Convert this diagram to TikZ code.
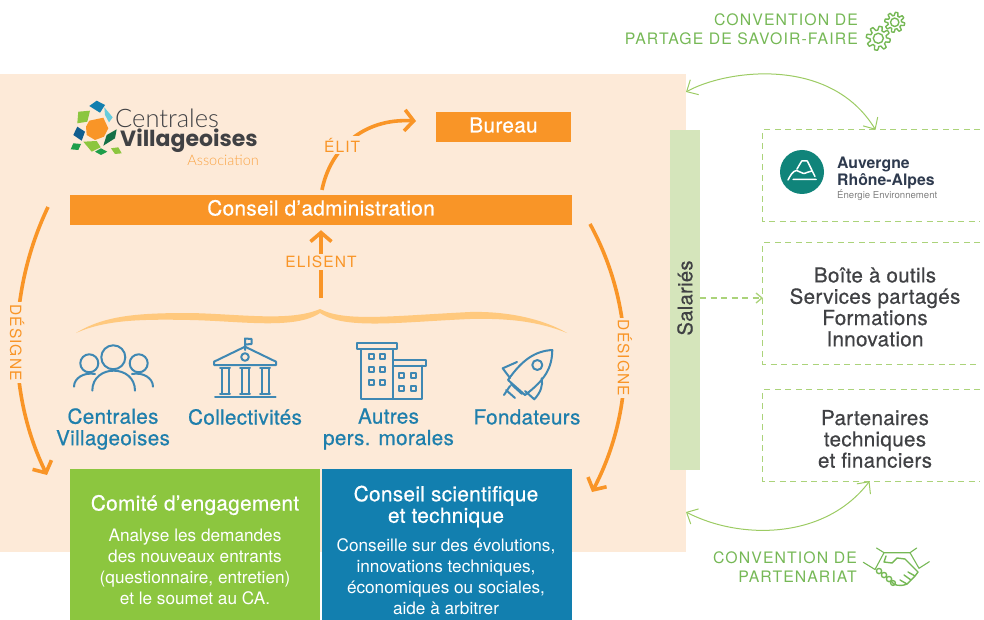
\documentclass[tikz,border=0pt]{standalone}
\usepackage{fontspec}
\usepackage{xcolor}
\usetikzlibrary{arrows.meta,positioning}
\setmainfont{TeX Gyre Heros}
\newfontfamily\medfont[FakeBold=0.6,LetterSpace=1.5]{TeX Gyre Heros}
\newfontfamily\capsfont[LetterSpace=7]{TeX Gyre Heros}
\newfontfamily\logolight{Lato Light}
\newfontfamily\logobold{Poppins}[UprightFont=* Bold]
\definecolor{fondpeche}{HTML}{FDEAD8}
\definecolor{orangeca}{HTML}{F99527}
\definecolor{accolade}{HTML}{FFC97E}
\definecolor{bleutxt}{HTML}{1F7FAC}
\definecolor{bleuicone}{HTML}{3F88B3}
\definecolor{bleucst}{HTML}{127FAF}
\definecolor{vertce}{HTML}{8CC63F}
\definecolor{vertsal}{HTML}{D5E5BB}
\definecolor{vertline}{HTML}{9CCB63}
\definecolor{verttxt}{HTML}{76B856}
\definecolor{grisfonce}{HTML}{404144}
\definecolor{tealaura}{HTML}{10847A}
\definecolor{logocyan}{HTML}{66CCDD}
\definecolor{logobleu}{HTML}{115E8F}
\definecolor{logovert}{HTML}{146F45}
\definecolor{logomoyen}{HTML}{1E9E4A}
\definecolor{aurableu}{HTML}{2E3A4E}
\tikzset{
  bandeau/.style={fill=orangeca,text=white,inner sep=0pt,text height=15pt,text depth=4pt,font=\medfont\fontsize{20.8}{22}\selectfont},
  groupe/.style={text=bleutxt,align=center,font=\medfont\fontsize{20.7}{21.5}\selectfont},
  comite/.style={text=white,align=center,inner sep=0pt},
  titrecomite/.style={font=\medfont\fontsize{20.8}{21.5}\selectfont},
  textecomite/.style={font=\fontsize{17.2}{20.8}\selectfont},
  capslabel/.style={text=orangeca,fill=fondpeche,inner sep=2pt,font=\capsfont\fontsize{15.5}{17}\selectfont},
  conventiontxt/.style={text=verttxt,align=right,anchor=east,inner sep=0pt,font=\capsfont\fontsize{15.8}{19}\selectfont},
  orangearc/.style={orangeca,line width=3.6pt,-{Straight Barb[length=9pt,width=21pt]}},
  greenarc/.style={vertline,line width=1pt,{Straight Barb[length=9pt,width=17pt]}-{Straight Barb[length=9pt,width=17pt]}},
  dashline/.style={vertline!85,line width=1.3pt,dash pattern=on 6pt off 4.5pt},
  dashbox/.style={minimum width=217pt,inner sep=0pt,text=grisfonce,align=center,font=\medfont\fontsize{20.6}{21.3}\selectfont},
  iconline/.style={bleuicone,line width=2pt,line join=round,line cap=round},
  greenicon/.style={verttxt,line width=1.4pt,line join=round,line cap=round},
}
\newcommand{\gearicon}[3]{
  \draw[greenicon,shift={(#1,#2)}] plot[domain=0:360,samples=97,variable=\t]
    ({#3*(0.84+0.16*max(-1,min(1,3*sin(8*\t))))*cos(\t)},{#3*(0.84+0.16*max(-1,min(1,3*sin(8*\t))))*sin(\t)}) -- cycle;
  \draw[greenicon] (#1,#2) circle ({#3*0.42});
}
\begin{document}
\begin{tikzpicture}[x=1pt,y=-1pt]
\useasboundingbox (0,0) rectangle (984,620);
\fill[fondpeche] (0,74) rectangle (686,552);
\node[fill=vertsal,minimum width=30pt,minimum height=340pt,inner sep=0pt] (salaries) at (685,300) {};
\node[rotate=90,text=grisfonce,font=\medfont\fontsize{20.2}{21}\selectfont] (salairestxt) at (685,298) {Salariés};
% logo
\fill[bleucst] (89.3,106) -- (96.7,100.7) -- (105,105) -- (100,112.7) -- cycle;
\fill[logocyan] (104.3,107.3) -- (112.7,117.3) -- (109,122.3) -- (105,115) -- cycle;
\fill[vertce] (78.3,111.7) -- (90,110.7) -- (87.3,121.7) -- (77.3,123.3) -- cycle;
\fill[orangeca] (89.3,120.7) -- (103.3,117.7) -- (108.3,128.3) -- (104,136.7) -- (95,140) -- (86.7,135) -- (86,126.7) -- cycle;
\fill[logobleu] (77.3,126.7) -- (85,131.7) -- (81.7,140.7) -- (73.3,135) -- cycle;
\fill[logovert] (116.7,129.3) -- (115,138.3) -- (103.3,145.7) -- (106.7,135) -- cycle;
\fill[vertce] (83.3,141.7) -- (96.7,141) -- (100.7,147.3) -- (91.7,151.7) -- cycle;
\fill[logomoyen] (73.3,143.3) -- (81,144) -- (78.3,150) -- (70.7,149.3) -- cycle;
\fill[logomoyen] (95,151.7) -- (101,148.3) -- (107.3,151.7) -- (101,155) -- cycle;
\fill[vertce] (111,148.3) -- (118.3,147.3) -- (121.7,153.3) -- (115,154) -- cycle;
\node[anchor=west,inner sep=0pt,text=grisfonce,font=\logolight\fontsize{25.5}{25}\selectfont] (logoa) at (115,118.5) {Centrales};
\node[anchor=west,inner sep=0pt,text=grisfonce,font=\logobold\fontsize{22}{22}\selectfont] (logob) at (120,141) {Villageoises};
\node[anchor=east,inner sep=0pt,text=orangeca!85,font=\logolight\fontsize{14.5}{15}\selectfont] (logoc) at (259,160) {Association};
% instances
\node[bandeau,minimum width=135pt,minimum height=30pt] (bureau) at (503.5,127) {Bureau};
\node[bandeau,minimum width=502pt,minimum height=30pt] (ca) at (321,210) {Conseil d’administration};
\coordinate (elithead) at (416,121);
\coordinate (bracetop) at (321,298);
\draw[orangearc,shorten <=5pt] (ca.north) .. controls (330,150) and (362,118) .. node[capslabel,pos=0.44,xshift=-4pt] {ÉLIT} (elithead);
\draw[orangearc,shorten >=5pt] (bracetop) -- node[capslabel] {ELISENT} (ca.south);
% accolade
\fill[accolade] (76,333) .. controls (105,315) and (140,313) .. (190,313) .. controls (240,314) and (290,322) .. (320,309)
  .. controls (345,322) and (390,316) .. (470,312) .. controls (510,311) and (545,320) .. (567,333)
  .. controls (540,322) and (510,318) .. (470,319) .. controls (400,322) and (345,330) .. (320,313)
  .. controls (295,330) and (240,321) .. (190,320) .. controls (140,319) and (105,320) .. (76,333) -- cycle;
% centrales
\draw[iconline] (113.3,357.3) circle (12) (89.3,363.3) circle (9) (138.7,363.3) circle (9);
\draw[iconline] (92.3,390.7) .. controls (92.3,364) and (135,364) .. (135,390.7);
\draw[iconline] (74,386.7) .. controls (74,378) and (84,372) .. (95,374);
\draw[iconline] (153,386.7) .. controls (153,378) and (143,372) .. (132,374);
% collectivites
\draw[iconline] (245,350) -- (245,338.5) -- (251.5,339) -- (251.5,344) -- (245.5,344.5);
\draw[iconline] (214,361.7) -- (245,346.7) -- (276,361.7) -- (276,365) -- (214,365) -- cycle;
\draw[iconline] (245,357) circle (3.8);
\foreach \cx in {225,245,265}{
  \draw[iconline] (\cx-5,368.3) -- (\cx+5,368.3) (\cx-3.5,368.3) -- (\cx-3.5,394) (\cx+3.5,368.3) -- (\cx+3.5,394) (\cx-5,394) -- (\cx+5,394);
}
\draw[iconline] (215,396.7) -- (275.7,396.7);
% autres
\draw[iconline] (361,349.3) -- (361,398.7) -- (422.3,398.7) -- (422.3,365.7);
\draw[iconline] (393.3,349.3) -- (393.3,398.7);
\draw[iconline] (357.3,342.7) rectangle (396.7,349.3);
\draw[iconline] (393.3,360) rectangle (426,365.7);
\foreach \wx in {371,382.7}{
  \foreach \wy in {356.7,369.3,382}{
    \draw[iconline] (\wx-2.5,\wy-2.5) rectangle (\wx+2.5,\wy+2.5);
  }
}
\foreach \wx in {401.3,413.3}{
  \foreach \wy in {375.7,388.3}{
    \draw[iconline] (\wx-2.5,\wy-2.5) rectangle (\wx+2.5,\wy+2.5);
  }
}
% fondateurs
\draw[iconline] (552.3,350) .. controls (535,351) and (522,360) .. (508,380) -- (525,395) .. controls (545,380) and (552,368) .. (552.3,350) -- cycle;
\draw[iconline] (517,362) -- (502.7,368.3) -- (510,378);
\draw[iconline] (541.7,378.3) .. controls (543,385) and (541,392) .. (534.3,399.3) -- (525,391);
\draw[iconline] (537.3,365) circle (5);
\draw[iconline] (511,384) -- (522,394) (506,390) -- (515,398) (510,386) -- (504,395);
\node[groupe] (centrales) at (113,429) {Centrales\\Villageoises};
\node[groupe] (collectivites) at (245,417) {Collectivités};
\node[groupe] (autres) at (388.5,429) {Autres\\pers. morales};
\node[groupe] (fondateurs) at (527,417) {Fondateurs};
% comites
\node[fill=vertce,minimum width=250pt,minimum height=151pt,inner sep=0pt] (comite) at (195,544.5) {};
\node[fill=bleucst,minimum width=250pt,minimum height=151pt,inner sep=0pt] (conseilst) at (447,544.5) {};
\node[comite,titrecomite] (comitetitre) at (195,505) {Comité d’engagement};
\node[comite,textecomite] (comitetxt) at (195,567) {Analyse les demandes\\des nouveaux entrants\\(questionnaire, entretien)\\et le soumet au CA.};
\node[comite,titrecomite] (conseiltitre) at (446,506.5) {Conseil scientifique\\et technique};
\node[comite,textecomite] (conseiltxt) at (446,576.5) {Conseille sur des évolutions,\\innovations techniques,\\économiques ou sociales,\\aide à arbitrer};
% designe
\coordinate (desgtop) at (48,207);
\coordinate (desgbas) at (47,475);
\coordinate (desdtop) at (590,224);
\coordinate (desdbas) at (592,492);
\draw[orangearc] (desgtop) .. controls (7,293) and (7,393) .. node[capslabel,rotate=-90,pos=0.5] {DÉSIGNE} (desgbas);
\draw[orangearc] (desdtop) .. controls (636,308) and (636,408) .. node[capslabel,rotate=-90,pos=0.5] {DÉSIGNE} (desdbas);
% colonne droite
\node[dashbox,minimum height=91pt] (rhone) at (871.5,175.5) {};
\node[dashbox,minimum height=121pt] (outils) at (871.5,303.5) {};
\node[dashbox,minimum height=91pt] (partenaires) at (871.5,435.5) {};
\draw[dashline] (rhone.north east) -- (rhone.north west) -- (rhone.south west) -- (rhone.south east);
\draw[dashline] (outils.north east) -- (outils.north west) -- (outils.south west) -- (outils.south east);
\draw[dashline] (partenaires.north east) -- (partenaires.north west) -- (partenaires.south west) -- (partenaires.south east);
\node[dashbox,minimum width=0pt] (outilstxt) at (875,307) {Boîte à outils\\Services partagés\\Formations\\Innovation};
\node[dashbox,minimum width=0pt] (partenairestxt) at (875,439) {Partenaires\\techniques\\et financiers};
\draw[dashline,-{Straight Barb[length=6pt,width=10pt]}] (salaries.east) ++(0,-2) -- (763,298);
% logo auvergne
\node[circle,fill=tealaura,minimum size=44pt,inner sep=0pt] (auralogo) at (802,172) {};
\draw[white,line width=1.5pt,line join=round,line cap=round] (788,180) .. controls (790,176) and (793,170.5) .. (796.7,170.5) .. controls (799,170.5) and (801,173.5) .. (803.5,173.5) .. controls (806,173.5) and (809,171) .. (812,171) (797,169) -- (801.7,161) -- (807.3,161) -- (815,176.5) (793,179.5) -- (816,179.5);
\node[anchor=west,inner sep=0pt,align=left,text=aurableu,font=\bfseries\fontsize{15.8}{17}\selectfont] (auratxt) at (837,173) {Auvergne\\Rhône-Alpes};
\node[anchor=west,inner sep=0pt,text=gray,font=\fontsize{9.6}{10}\selectfont] (aurasub) at (837,195.5) {Énergie Environnement};
% conventions
\node[conventiontxt] (partage) at (858,29.5) {CONVENTION DE\\PARTAGE DE SAVOIR-FAIRE};
\node[conventiontxt] (partenariat) at (857,567.5) {CONVENTION DE\\PARTENARIAT};
\gearicon{878.3}{38.3}{12}
\gearicon{894.7}{22.3}{10}
\coordinate (partageg) at (686,92);
\coordinate (partenariatg) at (686,512);
\draw[greenarc] (partageg) .. controls (725,70) and (830,55) .. ([xshift=4pt]rhone.north);
\draw[greenarc] (partenariatg) .. controls (740,540) and (825,540) .. ([xshift=-2pt]partenaires.south);
% poignee de main
\draw[greenicon,line width=1.1pt] (876.5,548) -- (884,552.7) -- (910,552.7) -- (916.7,548);
\draw[greenicon,line width=1.1pt] (863.3,562.3) -- (875,569.5) -- (884,552.7) (929.3,561.7) -- (919,568.3) -- (910,552.7);
\draw[greenicon] (886,556) -- (884,562) -- (892,563) -- (897,558) -- (905,559) -- (918,572) -- (915,576) -- (908,572) (915,576) -- (911,580) -- (904,575) (911,580) -- (907,584) -- (900,580) (907,584) .. controls (900,587) and (893,585) .. (892,582);
\draw[greenicon] (879,571) circle (2.6) (884,575) circle (2.6) (889,579) circle (2.6) (893,583) circle (2.4);
\end{tikzpicture}
\end{document}
